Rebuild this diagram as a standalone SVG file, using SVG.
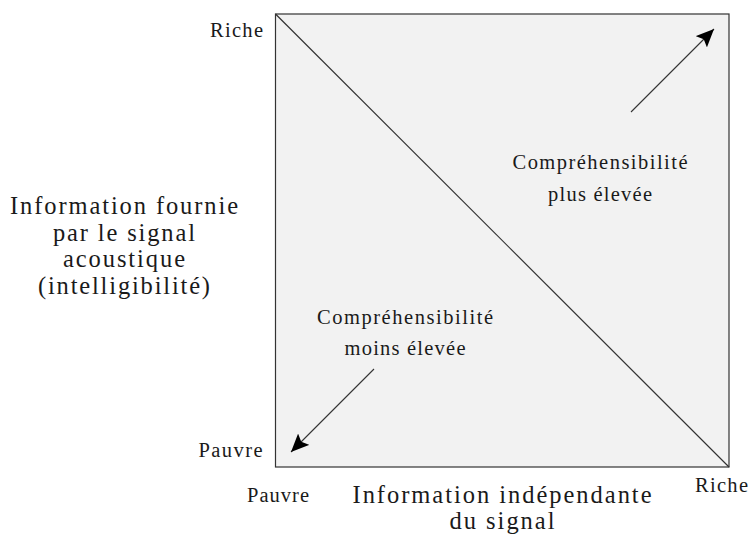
<svg xmlns="http://www.w3.org/2000/svg" width="750" height="538" viewBox="0 0 750 538">
<style>
text { font-family: "Liberation Serif", "DejaVu Serif", serif; fill: #1a1a1a; text-anchor: middle; }
.s { font-size: 20.5px; }
.b { font-size: 24.5px; }
.box { fill: #f2f2f2; stroke: #333; stroke-width: 1.2; }
.ln { stroke: #333; stroke-width: 1.2; fill: none; }
.arr { stroke: #333; stroke-width: 1.1; fill: none; marker-end: url(#ah); }
</style>
<defs>
<marker id="ah" markerUnits="userSpaceOnUse" markerWidth="20" markerHeight="16" refX="18" refY="8" orient="auto">
<path d="M0,0 L18,8 L0,16 L3.5,8 Z" fill="#000"/>
</marker>
</defs>
<g id="plot">
<rect class="box" x="275.5" y="14" width="453.5" height="453"/>
</g>
<g id="connectors">
<line class="ln" x1="275.5" y1="14" x2="729" y2="467"/>
<line class="arr" x1="631" y1="112" x2="714" y2="29"/>
<line class="arr" x1="374" y1="369" x2="291" y2="452"/>
</g>
<g id="axis-labels">
<text class="s" x="236.5" y="37" textLength="53" lengthAdjust="spacing">Riche</text>
<text class="s" x="230.5" y="457" textLength="64" lengthAdjust="spacing">Pauvre</text>
<text class="s" x="278" y="502" textLength="62" lengthAdjust="spacing">Pauvre</text>
<text class="s" x="721.5" y="492" textLength="53" lengthAdjust="spacing">Riche</text>
</g>
<g id="y-title">
<text class="b" x="124" y="214" textLength="228" lengthAdjust="spacing">Information fournie</text>
<text class="b" x="124" y="240.5" textLength="142" lengthAdjust="spacing">par le signal</text>
<text class="b" x="124" y="267" textLength="122" lengthAdjust="spacing">acoustique</text>
<text class="b" x="124" y="293.5" textLength="172" lengthAdjust="spacing">(intelligibilité)</text>
</g>
<g id="x-title">
<text class="b" x="502" y="503" textLength="299" lengthAdjust="spacing">Information indépendante</text>
<text class="b" x="502" y="529" textLength="105" lengthAdjust="spacing">du signal</text>
</g>
<g id="high">
<text class="s" x="600" y="169" textLength="175" lengthAdjust="spacing">Compréhensibilité</text>
<text class="s" x="600" y="201" textLength="104" lengthAdjust="spacing">plus élevée</text>
</g>
<g id="low">
<text class="s" x="405" y="324" textLength="176" lengthAdjust="spacing">Compréhensibilité</text>
<text class="s" x="405" y="355" textLength="121" lengthAdjust="spacing">moins élevée</text>
</g>
</svg>
